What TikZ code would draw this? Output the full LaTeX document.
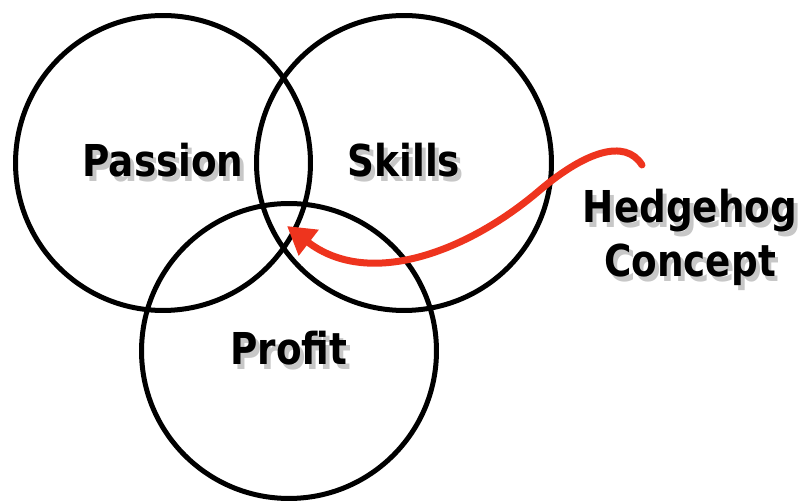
\documentclass[tikz,border=0pt]{standalone}
\usepackage{fontspec}
\setmainfont{DejaVu Sans}[FakeStretch=0.85]
\usepackage{xcolor}
\usetikzlibrary{arrows.meta}
\definecolor{hedgered}{RGB}{238,52,30}
\tikzset{>={Triangle[length=0.55cm,width=0.62cm]}}
\newcommand{\shadowed}[1]{%
  \makebox[0pt][l]{\hspace{2.2pt}\raisebox{-2.8pt}{\textcolor{black!22}{#1}}}%
  #1}

\begin{document}
\begin{tikzpicture}[x=0.02cm,y=-0.02cm,
  ring/.style={circle,draw,line width=0.1cm,minimum size=5.9cm,inner sep=0pt,
    font=\fontsize{25}{30}\selectfont\bfseries},
  tag/.style={align=center,font=\fontsize{25}{30.7}\selectfont\bfseries},
  hedgearrow/.style={->,draw=hedgered,line width=0.14cm,line cap=round}]

  \useasboundingbox (0,0) rectangle (801,502);

  \node[ring] (passion) at (163,163) {\shadowed{Passion}};
  \node[ring] (skills)  at (404,163) {\shadowed{Skills}};
  \node[ring] (profit)  at (289,351) {\shadowed{Profit}};

  \node[tag] (hedgehog) at (690,240) {\shadowed{Hedgehog}\\\shadowed{Concept}};

  % arrow into the middle
  \coordinate (tail) at (642,165);
  \coordinate (core) at (287,226);
  \draw[hedgearrow] (tail) .. controls (625,138) and (585,152) .. (540,190)
    .. controls (470,250) and (370,290) .. (core);

\end{tikzpicture}
\end{document}
